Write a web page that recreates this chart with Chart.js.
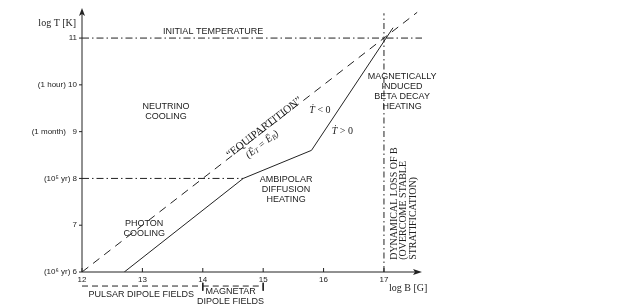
<!DOCTYPE html>
<html>
<head>
<meta charset="utf-8">
<script src="https://cdn.jsdelivr.net/npm/chart.js@4"></script>
<style>
  body { margin: 0; background: #fff; }
  #wrap { width: 627px; height: 307px; }
</style>
</head>
<body>
<div id="wrap"><canvas id="phaseChart"></canvas></div>
<script>
// axes: log B [G] across, log T [K] up
const xTicks = [12, 13, 14, 15, 16, 17];
const yTicks = [6, 7, 8, 9, 10, 11];
const yTickLabels = ["(10⁶ yr) 6", "7", "(10⁵ yr) 8", "(1 month)   9", "(1 hour) 10", "11"];

// equipartition E_T = E_B
const equipB = [12, 17.55];
const equipT = [6, 11.55];

// evolution track (photon cooling -> ambipolar -> beta decay)
const trackB = [12.7, 14.67, 15.8, 17.15];
const trackT = [6, 8, 8.6, 11.22];

// initial temperature
const initB = [12, 17.63];
const initT = [11, 11];

// 10^5 yr guide
const guideB = [12, 14.67];
const guideT = [8, 8];

// dynamical loss of B
const lossB = [17, 17];
const lossT = [6, 11.53];

// field ranges under the B axis
const pulsarB = [12, 14];
const magnetarB = [14, 15];
const rangeT = [5.7, 5.7];
const capT = [5.77, 5.6];

const pts = (bs, ts) => bs.map((b, i) => ({ x: b, y: ts[i] }));

const SANS = '"Liberation Sans", Arial, sans-serif';
const SERIF = '"Liberation Serif", "Times New Roman", serif';
const INK = '#222';

const notes = [
  { lines: ["INITIAL TEMPERATURE"], b: 14.17, t: 11.13 },
  { lines: ["NEUTRINO", "COOLING"], b: 13.39, t: 9.53 },
  { lines: ["PHOTON", "COOLING"], b: 13.03, t: 7.03 },
  { lines: ["AMBIPOLAR", "DIFFUSION", "HEATING"], b: 15.38, t: 7.97 },
  { lines: ["MAGNETICALLY", "INDUCED", "BETA DECAY", "HEATING"], b: 17.30, t: 10.17 },
  { lines: ["PULSAR DIPOLE FIELDS"], b: 12.98, t: 5.51 },
  { lines: ["MAGNETAR", "DIPOLE FIELDS"], b: 14.46, t: 5.59 }
];

const figureText = {
  id: "figureText",
  afterDatasetsDraw(chart) {
    const { ctx, scales: { x, y } } = chart;
    const X = v => x.getPixelForValue(v);
    const Y = v => y.getPixelForValue(v);
    const x0 = X(12), y0 = Y(6);
    const xEnd = X(x.max), yEnd = Y(y.max) - 2;

    ctx.save();
    ctx.strokeStyle = INK;
    ctx.fillStyle = INK;
    ctx.lineWidth = 1;

    // axes with arrow heads
    ctx.beginPath();
    ctx.moveTo(x0, yEnd + 6);
    ctx.lineTo(x0, y0);
    ctx.lineTo(xEnd - 6, y0);
    ctx.stroke();
    ctx.beginPath();
    ctx.moveTo(x0, yEnd);
    ctx.lineTo(x0 - 3, yEnd + 8);
    ctx.lineTo(x0, yEnd + 6);
    ctx.lineTo(x0 + 3, yEnd + 8);
    ctx.closePath();
    ctx.fill();
    ctx.beginPath();
    ctx.moveTo(xEnd, y0);
    ctx.lineTo(xEnd - 9, y0 - 3);
    ctx.lineTo(xEnd - 7, y0);
    ctx.lineTo(xEnd - 9, y0 + 3);
    ctx.closePath();
    ctx.fill();

    // tick marks
    ctx.beginPath();
    xTicks.forEach(v => { ctx.moveTo(X(v), y0); ctx.lineTo(X(v), y0 - 4); });
    yTicks.forEach(v => { ctx.moveTo(x0, Y(v)); ctx.lineTo(x0 - 3, Y(v)); });
    ctx.stroke();

    // block labels
    ctx.font = '9px ' + SANS;
    ctx.textAlign = 'center';
    ctx.textBaseline = 'middle';
    notes.forEach(n => {
      n.lines.forEach((s, i) => ctx.fillText(s, X(n.b), Y(n.t) + i * 10));
    });

    // axis titles
    ctx.font = '10px ' + SERIF;
    ctx.fillText("log T [K]", X(11.59), Y(11.32));
    ctx.fillText("log B [G]", X(17.40), Y(5.66));

    // T-dot labels
    const tdot = (b, t, rest) => {
      ctx.textAlign = 'left';
      ctx.font = 'italic 10px ' + SERIF;
      const w = ctx.measureText("Ṫ").width;
      ctx.font = '10px ' + SERIF;
      const total = w + ctx.measureText(rest).width;
      const sx = X(b) - total / 2;
      ctx.font = 'italic 10px ' + SERIF;
      ctx.fillText("Ṫ", sx, Y(t));
      ctx.font = '10px ' + SERIF;
      ctx.fillText(rest, sx + w, Y(t));
    };
    tdot(15.94, 9.46, " < 0");
    tdot(16.31, 9.01, " > 0");

    // equipartition label along the dashed line
    const ang = Math.atan2(Y(equipT[1]) - Y(equipT[0]), X(equipB[1]) - X(equipB[0]));
    ctx.save();
    ctx.translate(X(15.0), Y(9.12));
    ctx.rotate(ang);
    ctx.textAlign = 'center';
    ctx.font = '11px ' + SERIF;
    ctx.fillText("“EQUIPARTITION”", 0, 2);

    ctx.textAlign = 'left';
    const parts = [["(Ē", 10, 0], ["T", 7, 2], [" = Ē", 10, 0], ["B", 7, 2], [")", 10, 0]];
    let wsum = 0;
    parts.forEach(p => { ctx.font = 'italic ' + p[1] + 'px ' + SERIF; wsum += ctx.measureText(p[0]).width; });
    let cx = -12 - wsum / 2;
    parts.forEach(p => {
      ctx.font = 'italic ' + p[1] + 'px ' + SERIF;
      ctx.fillText(p[0], cx, 14 + p[2]);
      cx += ctx.measureText(p[0]).width;
    });
    ctx.restore();

    // dynamical loss label, written upwards
    const loss = ["DYNAMICAL LOSS OF B", "(OVERCOME STABLE", "STRATIFICATION)"];
    ctx.save();
    ctx.translate(X(17.17), Y(6.26));
    ctx.rotate(-Math.PI / 2);
    ctx.textAlign = 'left';
    ctx.font = '10px ' + SERIF;
    loss.forEach((s, i) => ctx.fillText(s, 0, i * 9.5));
    ctx.restore();

    ctx.restore();
  }
};

const dashDot = [7, 3, 1.5, 3];
const line = (data, dash, extra) => Object.assign({
  data, borderColor: INK, borderWidth: 1, borderDash: dash,
  pointRadius: 0, fill: false, tension: 0, showLine: true
}, extra || {});

new Chart(document.getElementById("phaseChart"), {
  type: "line",
  data: {
    datasets: [
      line(pts(equipB, equipT), [8, 6]),
      line(pts(trackB, trackT), []),
      line(pts(initB, initT), dashDot),
      line(pts(guideB, guideT), dashDot),
      line(pts(lossB, lossT), [6, 3, 1.5, 3]),
      line(pts(pulsarB, rangeT), [6, 4], { clip: false }),
      line(pts(magnetarB, rangeT), [6, 4], { clip: false }),
      line(pts([14, 14], capT), [], { clip: false }),
      line(pts([15, 15], capT), [], { clip: false })
    ]
  },
  options: {
    responsive: true,
    maintainAspectRatio: false,
    animation: false,
    layout: { padding: { left: 0, right: 205, top: 10, bottom: 0 } },
    plugins: { legend: { display: false }, tooltip: { enabled: false } },
    scales: {
      x: {
        type: "linear",
        min: 12,
        max: 17.63,
        grid: { display: false, drawTicks: false },
        border: { display: false },
        afterBuildTicks: s => { s.ticks = xTicks.map(v => ({ value: v })); },
        afterFit: s => { s.height = 35; },
        ticks: { color: INK, padding: 3, maxRotation: 0, font: { size: 8, family: SANS } }
      },
      y: {
        type: "linear",
        min: 6,
        max: 11.6,
        grid: { display: false, drawTicks: false },
        border: { display: false },
        afterBuildTicks: s => { s.ticks = yTicks.map(v => ({ value: v })); },
        afterFit: s => { s.width = 82; },
        ticks: {
          color: INK, padding: 5, font: { size: 8, family: SANS },
          callback: v => yTickLabels[yTicks.indexOf(v)]
        }
      }
    }
  },
  plugins: [figureText]
});
</script>
</body>
</html>
